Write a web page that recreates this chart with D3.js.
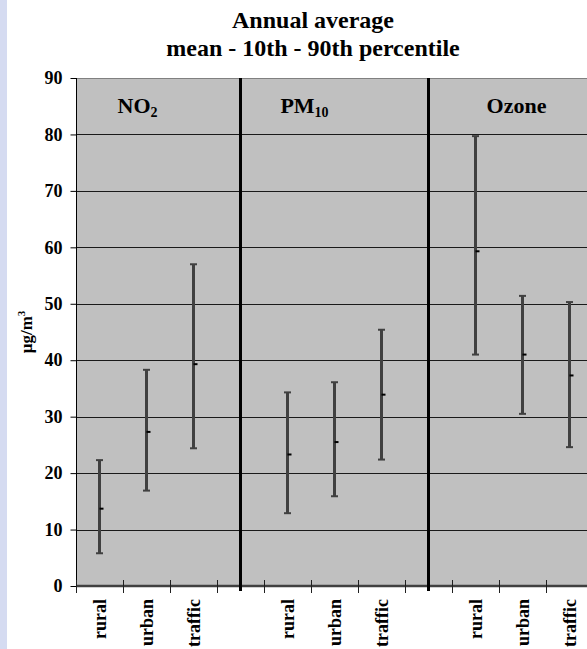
<!DOCTYPE html>
<html>
<head>
<meta charset="utf-8">
<script src="https://cdn.jsdelivr.net/npm/d3@7"></script>
<style>
  html, body { margin: 0; padding: 0; background: #ffffff; }
  svg { display: block; }
  text { font-family: "Liberation Serif", "Times New Roman", serif; font-weight: bold; fill: #000; }
</style>
</head>
<body>
<svg id="chart" width="587" height="649"></svg>
<script>
// ---- data ----
const categories = ["rural", "urban", "traffic", "", "rural", "urban", "traffic", "", "rural", "urban", "traffic"];
const pollutants = [
  { main: "NO", sub: "2" },
  { main: "PM", sub: "10" },
  { main: "Ozone", sub: "" }
];
const meanValues = [13.7, 27.3, 39.3, null, 23.3, 25.5, 33.9, null, 59.3, 41.0, 37.3];
const p10Values  = [5.8, 16.9, 24.4, null, 12.9, 15.9, 22.4, null, 41.0, 30.5, 24.6];
const p90Values  = [22.3, 38.3, 57.0, null, 34.3, 36.1, 45.4, null, 79.7, 51.4, 50.3];
const yTicks = [0, 10, 20, 30, 40, 50, 60, 70, 80, 90];
const titleLines = ["Annual average", "mean - 10th - 90th percentile"];

// ---- layout ----
const svg = d3.select("#chart");
const plot = { left: 76, right: 593, top: 78, bottom: 586 };

const keys = categories.map((c, i) => i);
const x = d3.scaleBand().domain(keys).range([plot.left, plot.right]).padding(0);
const y = d3.scaleLinear().domain([0, 90]).range([plot.bottom, plot.top]);
const cx = k => x(k) + x.bandwidth() / 2;

// left decorative strip
svg.append("rect").attr("x", 0).attr("y", 0).attr("width", 7).attr("height", 649).attr("fill", "#d5dbf1");

// plot background
svg.append("rect")
  .attr("x", plot.left).attr("y", plot.top)
  .attr("width", plot.right - plot.left).attr("height", plot.bottom - plot.top)
  .attr("fill", "#c0c0c0");

// gridlines
svg.append("g").selectAll("line")
  .data(yTicks.filter(d => d > 0 && d < 90))
  .join("line")
  .attr("x1", plot.left).attr("x2", plot.right)
  .attr("y1", d => Math.round(y(d)) + 0.5).attr("y2", d => Math.round(y(d)) + 0.5)
  .attr("stroke", "#1a1a1a").attr("stroke-width", 1);

// top border
svg.append("line")
  .attr("x1", plot.left).attr("x2", plot.right)
  .attr("y1", Math.round(y(90)) + 0.5).attr("y2", Math.round(y(90)) + 0.5)
  .attr("stroke", "#808080").attr("stroke-width", 1);

// y axis
const yAxis = d3.axisLeft(y).tickValues(yTicks).tickSize(6).tickPadding(8).tickFormat(d3.format("d"));
const gy = svg.append("g").attr("transform", `translate(${plot.left + 0.5},0)`).call(yAxis);
gy.select(".domain").attr("stroke", "#000").attr("d", `M0,${plot.top}V${plot.bottom}`);
gy.selectAll(".tick line").attr("stroke", "#000");
gy.selectAll(".tick text").style("font-size", "18px").style("font-family", "Liberation Serif, serif").style("font-weight", "bold").attr("fill", "#000");

// x axis line (thick)
svg.append("line")
  .attr("x1", plot.left).attr("x2", plot.right)
  .attr("y1", plot.bottom).attr("y2", plot.bottom)
  .attr("stroke", "#404040").attr("stroke-width", 2.5);

// x tick marks at category boundaries
const boundaries = keys.map(k => x(k)).concat([plot.right]);
svg.append("g").selectAll("line")
  .data(boundaries)
  .join("line")
  .attr("x1", d => Math.round(d) + 0.5).attr("x2", d => Math.round(d) + 0.5)
  .attr("y1", plot.bottom - 6).attr("y2", plot.bottom + 7)
  .attr("stroke", "#202020").attr("stroke-width", 1);

// panel dividers at empty categories
svg.append("g").selectAll("line")
  .data(keys.filter(k => categories[k] === ""))
  .join("line")
  .attr("x1", cx).attr("x2", cx)
  .attr("y1", plot.top).attr("y2", plot.bottom + 5)
  .attr("stroke", "#000").attr("stroke-width", 3);

// x labels
svg.append("g").selectAll("text")
  .data(keys.filter(k => categories[k] !== ""))
  .join("text")
  .attr("transform", k => `translate(${cx(k) + 6},${plot.bottom + 13}) rotate(-90)`)
  .attr("text-anchor", "end")
  .style("font-size", "18px")
  .text(k => categories[k]);

// error bars
const bars = keys.filter(k => meanValues[k] !== null);
const gb = svg.append("g");
gb.selectAll("line.v").data(bars).join("line").attr("class", "v")
  .attr("x1", cx).attr("x2", cx)
  .attr("y1", k => y(p10Values[k])).attr("y2", k => y(p90Values[k]))
  .attr("stroke", "#404040").attr("stroke-width", 3);
gb.selectAll("line.lo").data(bars).join("line").attr("class", "lo")
  .attr("x1", k => cx(k) - 3.5).attr("x2", k => cx(k) + 3.5)
  .attr("y1", k => y(p10Values[k])).attr("y2", k => y(p10Values[k]))
  .attr("stroke", "#404040").attr("stroke-width", 2);
gb.selectAll("line.hi").data(bars).join("line").attr("class", "hi")
  .attr("x1", k => cx(k) - 3.5).attr("x2", k => cx(k) + 3.5)
  .attr("y1", k => y(p90Values[k])).attr("y2", k => y(p90Values[k]))
  .attr("stroke", "#404040").attr("stroke-width", 2);
gb.selectAll("rect.m").data(bars).join("rect").attr("class", "m")
  .attr("x", cx).attr("width", 4)
  .attr("y", k => y(meanValues[k]) - 1).attr("height", 2)
  .attr("fill", "#000");

// panel labels (positioned within each group)
const panelCenters = [cx(1) - 9, cx(4) + 17, cx(9) - 6];
pollutants.forEach((p, i) => {
  const t = svg.append("text")
    .attr("x", panelCenters[i]).attr("y", 113)
    .attr("text-anchor", "middle")
    .style("font-size", "22px");
  t.append("tspan").text(p.main);
  if (p.sub) t.append("tspan").attr("dy", 4).style("font-size", "14px").text(p.sub);
});

// title
svg.append("g").selectAll("text")
  .data(titleLines)
  .join("text")
  .attr("x", 313).attr("y", (d, i) => 28 + i * 28)
  .attr("text-anchor", "middle")
  .style("font-size", "24px")
  .text(d => d);

// y axis title
const yt = svg.append("text")
  .attr("transform", `translate(32,332) rotate(-90)`)
  .attr("text-anchor", "middle")
  .style("font-size", "17px");
yt.append("tspan").text("µg/m");
yt.append("tspan").attr("dy", -7).style("font-size", "11px").text("3");
</script>
</body>
</html>
